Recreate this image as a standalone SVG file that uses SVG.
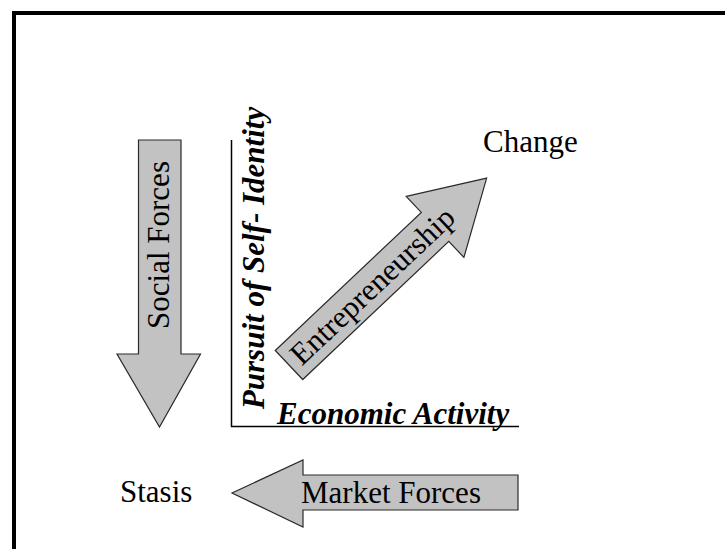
<svg xmlns="http://www.w3.org/2000/svg" width="725" height="549" viewBox="0 0 725 549">
<defs>
<style>
.arrow{fill:#c2c2c2;stroke:#2a2a2a;stroke-width:1.2;stroke-linejoin:miter}
.lbl{font-family:"Liberation Serif","Times New Roman",serif;font-size:31px;fill:#000}
.ax{font-family:"Liberation Serif","Times New Roman",serif;font-size:31px;font-weight:bold;font-style:italic;fill:#000}
.axis{stroke:#000;stroke-width:1.5;fill:none}
</style>
</defs>
<rect width="725" height="549" fill="#fff"/>
<g id="frame"><path d="M14,549 V13 H725" fill="none" stroke="#000" stroke-width="4"/></g>
<g id="axes">
<path class="axis" d="M231.5,140 V426.5 H519"/>
<text class="ax" transform="translate(264,258) rotate(-90)" text-anchor="middle">Pursuit of Self- Identity</text>
<text class="ax" x="277" y="424">Economic Activity</text>
</g>
<g id="social-forces">
<path class="arrow" d="M138.5,140 H181 V354 H200.5 L159.5,427 L117,354 H138.5 Z"/>
<text class="lbl" transform="translate(169,245) rotate(-90)" text-anchor="middle">Social Forces</text>
</g>
<g id="entrepreneurship">
<g transform="translate(289,365) rotate(-43.4)">
<path class="arrow" d="M0,-20 H201 V-42 L272,0 L201,42 V20 H0 Z"/>
<text class="lbl" x="115" y="10" text-anchor="middle">Entrepreneurship</text>
</g>
</g>
<g id="market-forces">
<path class="arrow" d="M518,475 V510 H303 V527 L232,493 L303,460 V475 Z"/>
<text class="lbl" x="391" y="503" text-anchor="middle">Market Forces</text>
</g>
<g id="change"><text class="lbl" x="483" y="152">Change</text></g>
<g id="stasis"><text class="lbl" x="120" y="502">Stasis</text></g>
</svg>
